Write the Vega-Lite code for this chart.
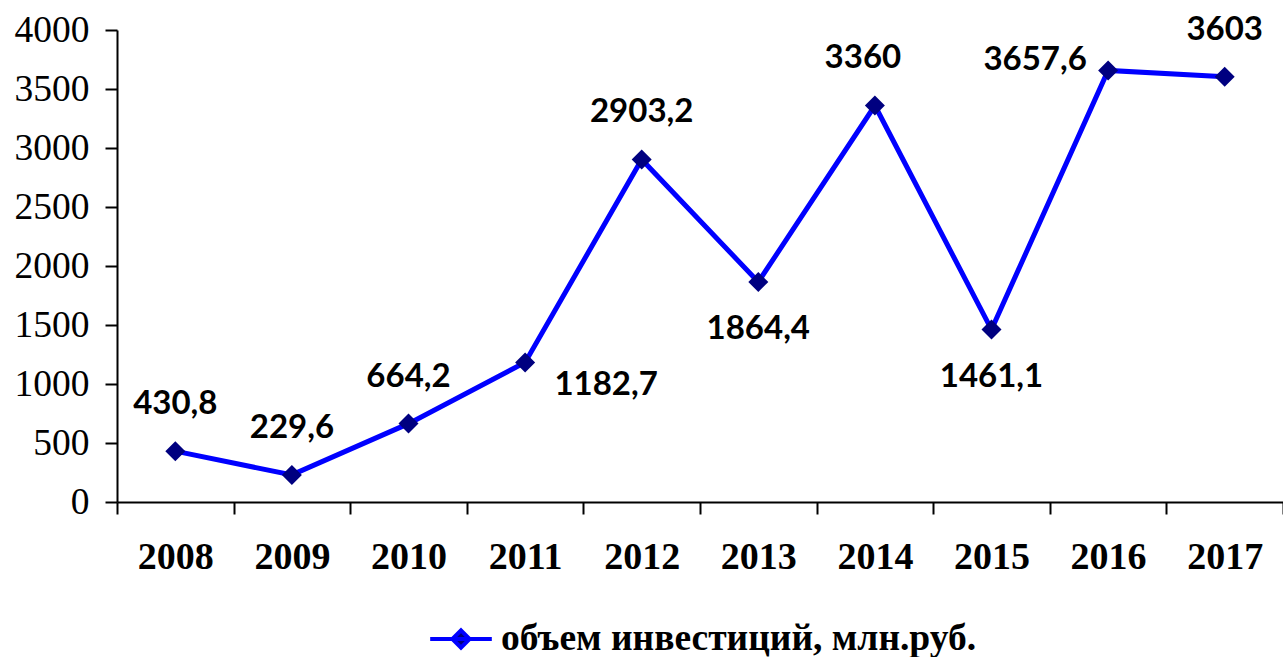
{
  "$schema": "https://vega.github.io/schema/vega-lite/v6.json",
  "width": 1166,
  "height": 472,
  "autosize": "none",
  "padding": {"left": 117, "top": 30, "right": 0, "bottom": 155},
  "background": "white",
  "config": {
    "view": {"stroke": null},
    "locale": {"number": {"decimal": ",", "thousands": "", "grouping": [3], "currency": ["", ""]}}
  },
  "data": {
    "values": [
      {"year": "2008", "value": 430.8, "series": "объем инвестиций, млн.руб."},
      {"year": "2009", "value": 229.6, "series": "объем инвестиций, млн.руб."},
      {"year": "2010", "value": 664.2, "series": "объем инвестиций, млн.руб."},
      {"year": "2011", "value": 1182.7, "series": "объем инвестиций, млн.руб."},
      {"year": "2012", "value": 2903.2, "series": "объем инвестиций, млн.руб."},
      {"year": "2013", "value": 1864.4, "series": "объем инвестиций, млн.руб."},
      {"year": "2014", "value": 3360, "series": "объем инвестиций, млн.руб."},
      {"year": "2015", "value": 1461.1, "series": "объем инвестиций, млн.руб."},
      {"year": "2016", "value": 3657.6, "series": "объем инвестиций, млн.руб."},
      {"year": "2017", "value": 3603, "series": "объем инвестиций, млн.руб."}
    ]
  },
  "encoding": {
    "x": {
      "field": "year",
      "type": "ordinal",
      "scale": {"type": "band", "paddingInner": 0, "paddingOuter": 0},
      "axis": {
        "title": null,
        "tickBand": "extent",
        "labelAngle": 0,
        "labelFont": "Liberation Serif",
        "labelFontWeight": "bold",
        "labelFontSize": 38,
        "labelColor": "black",
        "labelPadding": 24,
        "tickSize": 12,
        "tickWidth": 2,
        "tickColor": "black",
        "domainColor": "black",
        "domainWidth": 2,
        "grid": false
      }
    },
    "y": {
      "field": "value",
      "type": "quantitative",
      "scale": {"domain": [0, 4000], "nice": false},
      "axis": {
        "title": null,
        "values": [0, 500, 1000, 1500, 2000, 2500, 3000, 3500, 4000],
        "format": "d",
        "labelFont": "Liberation Serif",
        "labelFontSize": 37.5,
        "labelColor": "black",
        "labelPadding": 16,
        "tickSize": 12,
        "tickWidth": 2,
        "tickColor": "black",
        "domainColor": "black",
        "domainWidth": 2,
        "grid": false
      }
    }
  },
  "layer": [
    {
      "mark": {"type": "line", "strokeWidth": 5},
      "encoding": {
        "color": {
          "field": "series",
          "type": "nominal",
          "scale": {"range": ["#0000FF"]},
          "legend": {
            "title": null,
            "orient": "none",
            "legendX": 311,
            "legendY": 576,
            "symbolType": "M-1,0L1,0M0,-0.28L0.28,0L0,0.28L-0.28,0Z",
            "symbolSize": 3800,
            "symbolStrokeWidth": 4,
            "symbolStrokeColor": "#0000FF",
            "symbolFillColor": "#000080",
            "labelFont": "Liberation Serif",
            "labelFontWeight": "bold",
            "labelFontSize": 37.5,
            "labelLimit": 0,
            "labelColor": "black",
            "labelOffset": 7
          }
        }
      }
    },
    {
      "mark": {"type": "point", "shape": "diamond", "filled": true, "size": 400, "color": "#000080", "opacity": 1}
    },
    {
      "transform": [{"filter": {"field": "year", "oneOf": ["2008", "2009", "2010", "2012", "2017"]}}],
      "mark": {"type": "text", "font": "Lato", "fontWeight": "bold", "fontSize": 33, "baseline": "middle", "dy": -47, "color": "black"},
      "encoding": {"text": {"field": "value", "type": "quantitative", "format": ".1~f"}}
    },
    {
      "transform": [{"filter": {"field": "year", "oneOf": ["2014"]}}],
      "mark": {"type": "text", "font": "Lato", "fontWeight": "bold", "fontSize": 33, "baseline": "middle", "dx": -12, "dy": -48, "color": "black"},
      "encoding": {"text": {"field": "value", "type": "quantitative", "format": ".1~f"}}
    },
    {
      "transform": [{"filter": {"field": "year", "oneOf": ["2013", "2015"]}}],
      "mark": {"type": "text", "font": "Lato", "fontWeight": "bold", "fontSize": 33, "baseline": "middle", "dy": 47, "color": "black"},
      "encoding": {"text": {"field": "value", "type": "quantitative", "format": ".1~f"}}
    },
    {
      "transform": [{"filter": {"field": "year", "oneOf": ["2011"]}}],
      "mark": {"type": "text", "font": "Lato", "fontWeight": "bold", "fontSize": 33, "baseline": "middle", "dx": 81, "dy": 23, "color": "black"},
      "encoding": {"text": {"field": "value", "type": "quantitative", "format": ".1~f"}}
    },
    {
      "transform": [{"filter": {"field": "year", "oneOf": ["2016"]}}],
      "mark": {"type": "text", "font": "Lato", "fontWeight": "bold", "fontSize": 33, "baseline": "middle", "dx": -73, "dy": -10, "color": "black"},
      "encoding": {"text": {"field": "value", "type": "quantitative", "format": ".1~f"}}
    }
  ]
}
